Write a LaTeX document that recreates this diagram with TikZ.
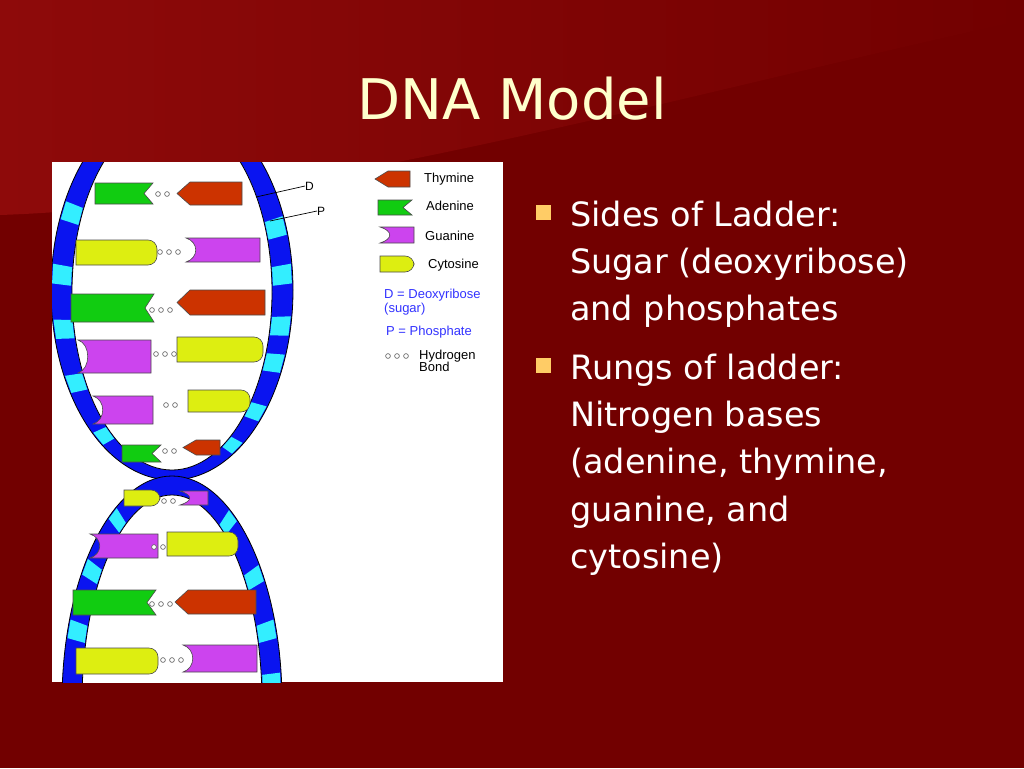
\documentclass[tikz,border=0pt]{standalone}
\usepackage{fontspec}
\setmainfont{Liberation Sans}
\newfontfamily\tfont{DejaVu Sans}
\definecolor{bgdark}{HTML}{720000}
\definecolor{bglight}{HTML}{8E0A0A}
\definecolor{titlec}{HTML}{FFFFCC}
\definecolor{bulletc}{HTML}{FFCC66}
\definecolor{strandc}{HTML}{0A14F0}
\definecolor{rungc}{HTML}{33EEFF}
\definecolor{adec}{HTML}{11CC11}
\definecolor{thyc}{HTML}{CC3300}
\definecolor{guac}{HTML}{CC44EE}
\definecolor{cytc}{HTML}{DDEE11}
\definecolor{legc}{HTML}{3333FF}
\tikzset{
  basedraw/.style={draw=black!70, line width=0.6pt},
  hbond/.style={draw=gray!70!black, line width=0.6pt, fill=white},
  bul/.style={text=white, font=\tfont\fontsize{33.5}{40}\selectfont, anchor=base west, inner sep=0pt},
  leg/.style={font=\fontsize{13}{15}\selectfont, anchor=west, inner sep=0pt},
}
\newcommand{\baseAde}[4]{\filldraw[basedraw,fill=adec] (#1,#2) -- (#3,#2) -- ({#3-9},{(#2+#4)/2}) -- (#3,#4) -- (#1,#4) -- cycle;}
\newcommand{\baseThy}[4]{\filldraw[basedraw,fill=thyc] ({#1+13},#2) -- (#3,#2) -- (#3,#4) -- ({#1+13},#4) -- (#1,{(#2+#4)/2}) -- cycle;}
\newcommand{\baseCyt}[4]{\filldraw[basedraw,fill=cytc] (#1,#4) -- (#1,#2) [rounded corners=9pt] -- (#3,#2) -- (#3,#4) [sharp corners] -- cycle;}
\newcommand{\baseGua}[4]{\filldraw[basedraw,fill=guac] (#3,#2) -- (#1,#2) .. controls ({#1+13},{#2+4}) and ({#1+13},{#4-4}) .. (#1,#4) -- (#3,#4) -- cycle;}
\newcommand{\hbdots}[3]{\foreach \k in {1,...,#3} {\draw[hbond] ({#1+(\k-1)*9},#2) circle (2.4pt);}}
\begin{document}
\begin{tikzpicture}[x=1pt,y=-1pt]
\useasboundingbox (0,0) rectangle (1024,768);
\fill[bgdark] (0,0) rectangle (1024,768);
\shade[left color=bglight, right color=bgdark] (0,0) -- (0,215) .. controls (300,205) and (700,90) .. (1024,20) -- (1024,0) -- cycle;
% title
\node[text=titlec, font=\tfont\fontsize{56}{60}\selectfont] (title) at (512,99) {DNA Model};
% image area
\fill[white] (52,162) rectangle (503,682);
\begin{scope}
\clip (52,162) rectangle (503,682);
% upper loop
\filldraw[fill=strandc, draw=black, line width=0.8pt] (172,290) ellipse [x radius=121, y radius=190];
\filldraw[fill=white, draw=black, line width=0.8pt] (172,292) ellipse [x radius=100, y radius=178];
\foreach \t in {205,185,168,150,128,-20,-5,11,23,41,57} {
  \fill[rungc] ({172+101*cos(\t-3)},{292+179*sin(\t-3)}) -- ({172+120*cos(\t-3)},{290+189*sin(\t-3)}) -- ({172+120*cos(\t+3)},{290+189*sin(\t+3)}) -- ({172+101*cos(\t+3)},{292+179*sin(\t+3)}) -- cycle;
}
% lower loop
\filldraw[fill=strandc, draw=black, line width=0.8pt] (172,702) ellipse [x radius=110, y radius=226];
\filldraw[fill=white, draw=black, line width=0.8pt] (172,702) ellipse [x radius=90, y radius=207];
\foreach \t in {237,217,199,-56,-35,-19,-5} {
  \fill[rungc] ({172+91*cos(\t-2.5)},{702+208*sin(\t-2.5)}) -- ({172+109*cos(\t-2.5)},{702+225*sin(\t-2.5)}) -- ({172+109*cos(\t+2.5)},{702+225*sin(\t+2.5)}) -- ({172+91*cos(\t+2.5)},{702+208*sin(\t+2.5)}) -- cycle;
}
% bases
\baseAde{95}{183}{153}{204} \hbdots{158}{194}{2} \baseThy{177}{182}{242}{205}
\baseCyt{76}{240}{157}{265} \hbdots{160}{252}{3} \baseGua{186}{238}{260}{262}
\baseAde{71}{294}{154}{322} \hbdots{152}{310}{3} \baseThy{177}{290}{265}{315}
\baseGua{78}{340}{151}{373} \hbdots{156}{354}{3} \baseCyt{177}{337}{263}{362}
\baseGua{93}{396}{153}{424} \hbdots{166}{405}{2} \baseCyt{188}{390}{250}{412}
\baseAde{122}{445}{161}{462} \hbdots{165}{451}{2} \baseThy{183}{440}{220}{455}
\baseCyt{124}{490}{160}{506} \hbdots{164}{501}{2} \baseGua{180}{491}{208}{505}
\baseGua{90}{534}{158}{558} \hbdots{154}{547}{2} \baseCyt{167}{532}{238}{556}
\baseAde{73}{590}{156}{615} \hbdots{152}{604}{3} \baseThy{175}{590}{256}{614}
\baseCyt{76}{648}{158}{674} \hbdots{163}{660}{3} \baseGua{183}{645}{257}{672}
\end{scope}
% D and P labels
\node[leg, font=\fontsize{12}{14}\selectfont] (dlab) at (305,186) {D};
\node[leg, font=\fontsize{12}{14}\selectfont] (plab) at (317,211) {P};
\draw[line width=0.7pt] (dlab.west) -- (256,197);
\draw[line width=0.7pt] (plab.west) -- (270,221);
% legend
\baseThy{375}{171}{410}{187}
\baseAde{378}{200}{412}{215}
\baseGua{380}{227}{414}{243}
\baseCyt{380}{256}{414}{272}
\node[leg] (lt) at (424,179) {Thymine};
\node[leg] (la) at (426,206) {Adenine};
\node[leg] (lg) at (425,236) {Guanine};
\node[leg] (lc) at (428,265) {Cytosine};
\node[leg, text=legc] (ld) at (384,295) {D = Deoxyribose};
\node[leg, text=legc] (ls) at (384,309) {(sugar)};
\node[leg, text=legc] (lp) at (386,332) {P = Phosphate};
\hbdots{388}{356}{3}
\node[leg, align=left, anchor=north west] (lh) at (419,350) {Hydrogen\\[-3pt]Bond};
% bullets
\fill[bulletc] (536,205) rectangle (551,220);
\fill[bulletc] (536,358) rectangle (551,373);
\node[bul] (b1) at (570,226) {Sides of Ladder:};
\node[bul] (b2) at (570,273) {Sugar (deoxyribose)};
\node[bul] (b3) at (570,320) {and phosphates};
\node[bul] (b4) at (570,379) {Rungs of ladder:};
\node[bul] (b5) at (570,426) {Nitrogen bases};
\node[bul] (b6) at (570,473) {(adenine, thymine,};
\node[bul] (b7) at (570,521) {guanine, and};
\node[bul] (b8) at (570,568) {cytosine)};
\end{tikzpicture}
\end{document}
